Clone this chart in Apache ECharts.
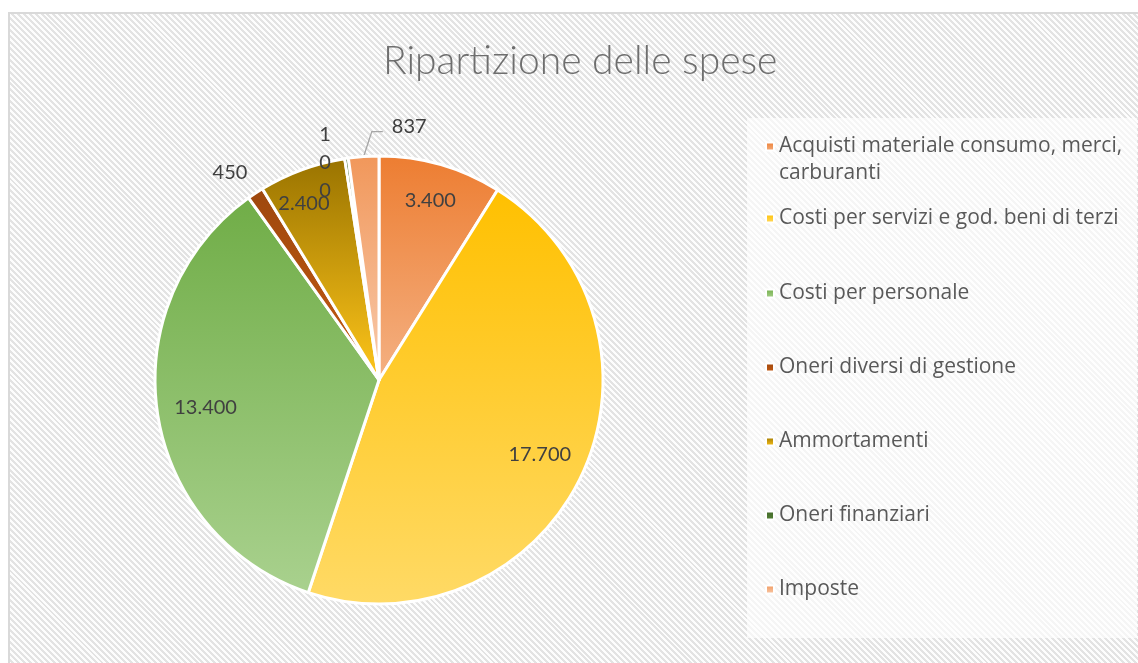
<!DOCTYPE html>
<html>
<head>
<meta charset="utf-8">
<script src="https://cdn.jsdelivr.net/npm/echarts@6/dist/echarts.min.js"></script>
<style>
body { margin: 0; background: #fff; }
#frame {
    position: absolute; left: 8px; top: 12px; width: 1140px; height: 660px;
    border: 2px solid #d9d9d9; box-sizing: border-box;
    background: repeating-linear-gradient(45deg, #fdfdfd 0px, #fdfdfd 2.1px, #e3e3e3 2.1px, #e3e3e3 4.2px);
}
#main { position: absolute; left: 0; top: 0; width: 1138px; height: 663px; }
</style>
</head>
<body>
<div id="frame"></div>
<div id="main"></div>
<script>
var titleText = 'Ripartizione delle spese';
var categories = [
    'Acquisti materiale consumo, merci, carburanti',
    'Costi per servizi e god. beni di terzi',
    'Costi per personale',
    'Oneri diversi di gestione',
    'Ammortamenti',
    'Oneri finanziari',
    'Imposte'
];
var values = [3400, 17700, 13400, 450, 2400, 100, 837];

// slices whose value sits outside the pie
var outsideIdx = [3, 5, 6];

var topColors = ['#ED7D31', '#FFC000', '#70AD47', '#9E480E', '#997300', '#43682B', '#F1975A'];
var bottomColors = ['#F4B183', '#FFDA66', '#A9D18E', '#C55A11', '#FFC61A', '#548235', '#F8CBAD'];

var R = 224;
var center = [379, 380];
var labelFont = 'Lato, "Open Sans", sans-serif';
var legendFont = '"Open Sans", Lato, sans-serif';

function fmt(v) {
    return String(v).replace(/\B(?=(\d{3})+(?!\d))/g, '.');
}

// small nudges of the value labels
var labelShift = { 3: [8, -4], 5: [-10, 9], 6: [77, -15] };
var ringShift = { 1: [-8, -5], 2: [11, 0], 4: [-11, -1] };

var mainData = categories.map(function (name, i) {
    var item = {
        name: name,
        value: values[i],
        itemStyle: {
            color: new echarts.graphic.LinearGradient(0, 0, 0, 1, [
                { offset: 0, color: topColors[i] },
                { offset: 1, color: bottomColors[i] }
            ])
        },
        label: { show: false },
        labelLine: { show: false }
    };
    if (outsideIdx.indexOf(i) >= 0) {
        item.label = { show: true, position: 'outside' };
        if (i === 5) {
            item.label.width = 8;
            item.label.overflow = 'breakAll';
            item.label.lineHeight = 28;
            item.labelLine = { show: false, length: 5, length2: 0 };
        } else if (i === 3) {
            item.labelLine = { show: false, length: 20, length2: 0 };
        } else {
            item.labelLine = { show: true, length: 15, length2: 8, lineStyle: { color: '#a6a6a6', width: 1.3 } };
        }
    }
    return item;
});

var ringData = categories.map(function (name, i) {
    return {
        name: name,
        value: values[i],
        label: { show: outsideIdx.indexOf(i) < 0 }
    };
});

var option = {
    animation: false,
    title: {
        text: titleText,
        left: 378,
        top: 37,
        textStyle: { color: '#6e6e6e', fontSize: 39, fontWeight: 300, fontFamily: labelFont }
    },
    graphic: [{
        type: 'rect',
        shape: { x: 747, y: 118, width: 390, height: 520 },
        style: { fill: 'rgba(255,255,255,0.65)' },
        silent: true,
        z: -1
    }],
    legend: [{
        orient: 'vertical',
        left: 765,
        top: 106,
        padding: 0,
        itemGap: 18,
        itemWidth: 8,
        itemHeight: 8,
        icon: 'rect',
        data: categories.slice(0, 2),
        // blank first line keeps the marker level with the first text line
        formatter: function (name) {
            return name === categories[0] ? ' \n' + name : name;
        },
        textStyle: { color: '#595959', fontSize: 21, fontFamily: legendFont, lineHeight: 27, width: 360, overflow: 'break' }
    }, {
        orient: 'vertical',
        left: 765,
        top: 280,
        padding: 0,
        itemGap: 47,
        itemWidth: 8,
        itemHeight: 8,
        icon: 'rect',
        data: categories.slice(2),
        textStyle: { color: '#595959', fontSize: 21, fontFamily: legendFont, lineHeight: 27 }
    }],
    series: [{
        name: 'Spese',
        type: 'pie',
        center: center,
        radius: [0, R],
        startAngle: 90,
        clockwise: true,
        avoidLabelOverlap: false,
        itemStyle: { borderColor: '#fff', borderWidth: 3 },
        label: {
            color: '#404040',
            fontSize: 20,
            fontFamily: labelFont,
            formatter: function (p) { return fmt(p.value); }
        },
        labelLayout: function (p) {
            var s = labelShift[p.dataIndex];
            if (!s) return {};
            var out = { dx: s[0], dy: s[1] };
            if (p.dataIndex === 6 && p.labelLinePoints) {
                // leader line: from slice edge up to the left of the moved label
                var r = p.labelRect;
                var endX = r.x + s[0] - 9;
                var endY = r.y + s[1] + r.height / 2 + 5;
                out.labelLinePoints = [p.labelLinePoints[0], [endX - 11, endY], [endX, endY]];
            }
            return out;
        },
        data: mainData
    }, {
        name: 'Etichette',
        type: 'pie',
        center: center,
        radius: [143, R],
        startAngle: 90,
        clockwise: true,
        silent: true,
        avoidLabelOverlap: false,
        itemStyle: { color: 'rgba(0,0,0,0)' },
        label: {
            position: 'inside',
            color: '#404040',
            fontSize: 20,
            fontFamily: labelFont,
            formatter: function (p) { return fmt(p.value); }
        },
        labelLine: { show: false },
        labelLayout: function (p) {
            var s = ringShift[p.dataIndex];
            return s ? { dx: s[0], dy: s[1] } : {};
        },
        data: ringData
    }]
};

var myChart = echarts.init(document.getElementById('main'));
myChart.setOption(option);
</script>
</body>
</html>
